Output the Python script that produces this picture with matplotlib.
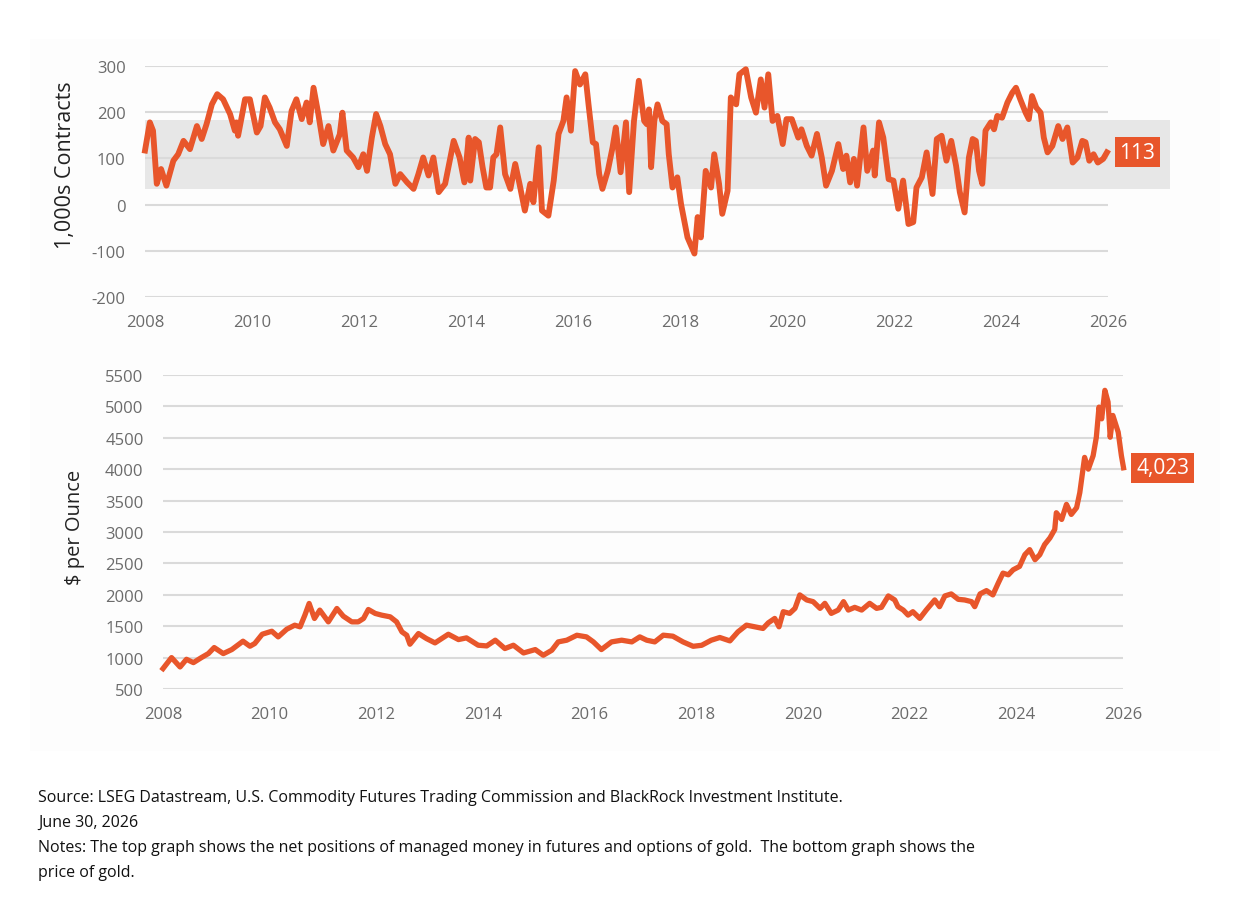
import matplotlib.pyplot as plt
from matplotlib import font_manager
from matplotlib.patches import Rectangle

# Net managed-money positions in gold futures & options (1,000s contracts)
pos_years = [
    2008.0, 2008.09, 2008.15, 2008.22, 2008.3, 2008.4, 2008.53, 2008.62, 2008.72, 2008.84,
    2008.97, 2009.06, 2009.15, 2009.25, 2009.35, 2009.46, 2009.59, 2009.68, 2009.71, 2009.74,
    2009.87, 2009.96, 2010.09, 2010.16, 2010.24, 2010.33, 2010.43, 2010.52, 2010.65, 2010.74,
    2010.83, 2010.93, 2011.02, 2011.08, 2011.15, 2011.24, 2011.33, 2011.43, 2011.52, 2011.64,
    2011.69, 2011.77, 2011.89, 2011.99, 2012.08, 2012.15, 2012.24, 2012.32, 2012.4, 2012.49,
    2012.58, 2012.68, 2012.77, 2012.9, 2013.02, 2013.11, 2013.2, 2013.3, 2013.39, 2013.49,
    2013.61, 2013.77, 2013.88, 2013.97, 2014.05, 2014.08, 2014.17, 2014.24, 2014.31, 2014.38,
    2014.45, 2014.51, 2014.57, 2014.64, 2014.73, 2014.83, 2014.92, 2015.0, 2015.1, 2015.2,
    2015.26, 2015.36, 2015.42, 2015.54, 2015.64, 2015.73, 2015.82, 2015.88, 2015.96, 2016.04,
    2016.13, 2016.23, 2016.29, 2016.37, 2016.43, 2016.49, 2016.55, 2016.65, 2016.74, 2016.8,
    2016.89, 2016.99, 2017.05, 2017.14, 2017.23, 2017.33, 2017.38, 2017.42, 2017.46, 2017.52,
    2017.58, 2017.67, 2017.75, 2017.79, 2017.86, 2017.95, 2018.02, 2018.14, 2018.27, 2018.33,
    2018.39, 2018.48, 2018.58, 2018.64, 2018.73, 2018.79, 2018.89, 2018.95, 2019.05, 2019.11,
    2019.23, 2019.33, 2019.42, 2019.51, 2019.58, 2019.65, 2019.73, 2019.82, 2019.92, 2019.99,
    2020.09, 2020.21, 2020.27, 2020.37, 2020.46, 2020.56, 2020.65, 2020.73, 2020.84, 2020.96,
    2021.05, 2021.11, 2021.18, 2021.25, 2021.31, 2021.43, 2021.5, 2021.61, 2021.64, 2021.72,
    2021.8, 2021.9, 2021.99, 2022.08, 2022.17, 2022.27, 2022.36, 2022.42, 2022.52, 2022.61,
    2022.72, 2022.8, 2022.89, 2022.98, 2023.07, 2023.16, 2023.23, 2023.32, 2023.4, 2023.47,
    2023.53, 2023.59, 2023.65, 2023.71, 2023.81, 2023.87, 2023.93, 2024.02, 2024.12, 2024.21,
    2024.28, 2024.36, 2024.46, 2024.52, 2024.58, 2024.66, 2024.74, 2024.8, 2024.87, 2024.96,
    2025.07, 2025.15, 2025.24, 2025.34, 2025.43, 2025.52, 2025.58, 2025.65, 2025.73, 2025.81,
    2025.91, 2025.98,
]
pos_values = [
    117, 178, 160, 45, 77, 41, 95, 109, 138, 120,
    170, 142, 174, 217, 239, 228, 196, 160, 178, 149,
    228, 228, 156, 170, 232, 210, 178, 163, 127, 203,
    228, 185, 221, 178, 253, 196, 131, 170, 117, 152,
    199, 117, 102, 81, 109, 73, 145, 196, 170, 131,
    109, 45, 66, 48, 34, 66, 102, 63, 102, 27,
    45, 138, 102, 48, 145, 52, 142, 135, 81, 37,
    37, 102, 109, 167, 66, 34, 88, 45, -13, 45,
    5, 124, -13, -24, 52, 153, 181, 232, 160, 289,
    260, 282, 217, 135, 131, 66, 34, 73, 124, 167,
    70, 178, 27, 181, 268, 181, 174, 206, 81, 181,
    217, 181, 174, 109, 37, 59, 1, -71, -106, -27,
    -71, 73, 37, 109, 45, -20, 30, 232, 217, 282,
    293, 232, 199, 271, 210, 282, 181, 192, 131, 185,
    185, 145, 163, 127, 106, 153, 102, 41, 73, 131,
    77, 106, 48, 99, 41, 167, 73, 117, 63, 178,
    145, 55, 52, -9, 52, -42, -38, 37, 59, 113,
    23, 142, 149, 95, 138, 84, 27, -17, 102, 142,
    138, 73, 45, 160, 178, 163, 192, 188, 221, 242,
    253, 228, 199, 185, 235, 210, 199, 145, 113, 127,
    170, 142, 167, 91, 102, 138, 135, 95, 109, 91,
    99, 113,
]

# Gold price ($ per ounce)
gold_years = [
    2008.0, 2008.16, 2008.32, 2008.44, 2008.57, 2008.72, 2008.85, 2008.96, 2009.13, 2009.29,
    2009.5, 2009.63, 2009.72, 2009.86, 2010.04, 2010.16, 2010.32, 2010.47, 2010.57, 2010.66,
    2010.74, 2010.84, 2010.94, 2011.1, 2011.26, 2011.38, 2011.54, 2011.66, 2011.76, 2011.85,
    2011.98, 2012.1, 2012.26, 2012.38, 2012.48, 2012.57, 2012.63, 2012.79, 2012.94, 2013.1,
    2013.35, 2013.54, 2013.69, 2013.91, 2014.07, 2014.23, 2014.41, 2014.57, 2014.76, 2014.98,
    2015.13, 2015.29, 2015.41, 2015.57, 2015.76, 2015.94, 2016.07, 2016.22, 2016.41, 2016.6,
    2016.79, 2016.94, 2017.07, 2017.22, 2017.38, 2017.56, 2017.75, 2017.94, 2018.1, 2018.28,
    2018.44, 2018.63, 2018.78, 2018.94, 2019.1, 2019.25, 2019.35, 2019.47, 2019.55, 2019.63,
    2019.75, 2019.85, 2019.94, 2020.07, 2020.19, 2020.32, 2020.41, 2020.53, 2020.66, 2020.76,
    2020.85, 2020.97, 2021.1, 2021.25, 2021.38, 2021.47, 2021.6, 2021.72, 2021.78, 2021.88,
    2021.97, 2022.06, 2022.19, 2022.31, 2022.47, 2022.56, 2022.66, 2022.78, 2022.91, 2023.03,
    2023.16, 2023.22, 2023.32, 2023.44, 2023.56, 2023.66, 2023.75, 2023.85, 2023.94, 2024.06,
    2024.16, 2024.25, 2024.35, 2024.44, 2024.53, 2024.63, 2024.72, 2024.75, 2024.85, 2024.94,
    2025.03, 2025.13, 2025.19, 2025.28, 2025.35, 2025.44, 2025.5, 2025.55, 2025.6, 2025.66,
    2025.72, 2025.76, 2025.81, 2025.86, 2025.91, 2025.97, 2026.01,
]
gold_values = [
    825, 1000, 851, 973, 920, 1000, 1064, 1160, 1064, 1128,
    1261, 1181, 1224, 1372, 1420, 1330, 1452, 1516, 1490, 1676,
    1862, 1623, 1756, 1569, 1782, 1660, 1569, 1569, 1623, 1766,
    1703, 1676, 1649, 1569, 1410, 1356, 1213, 1383, 1303, 1234,
    1372, 1287, 1314, 1197, 1186, 1277, 1144, 1197, 1074, 1128,
    1037, 1117, 1250, 1277, 1356, 1330, 1250, 1128, 1250, 1277,
    1250, 1330, 1277, 1250, 1357, 1341, 1250, 1180, 1196, 1277,
    1320, 1266, 1410, 1517, 1490, 1464, 1554, 1624, 1490, 1731,
    1704, 1784, 1998, 1918, 1891, 1784, 1864, 1704, 1757, 1891,
    1757, 1800, 1757, 1864, 1784, 1800, 1982, 1918, 1811, 1757,
    1677, 1731, 1624, 1757, 1918, 1811, 1982, 2014, 1928, 1918,
    1891, 1811, 2014, 2067, 1998, 2185, 2345, 2318, 2398, 2452,
    2639, 2719, 2559, 2639, 2799, 2906, 3040, 3307, 3200, 3440,
    3280, 3387, 3627, 4188, 4001, 4215, 4509, 4989, 4802, 5256,
    5069, 4509, 4856, 4722, 4589, 4215, 4023,
]

year_ticks = list(range(2008, 2027, 2))
band_range = (34, 184)

LINE = "#E8562B"
GRID = "#DADADA"
TICK = "#6B6B6B"

names = {f.name for f in font_manager.fontManager.ttflist}
tick_font = next((f for f in ["Open Sans", "Roboto", "Lato", "Noto Sans"] if f in names),
                 "DejaVu Sans")
if "Liberation Sans Narrow" in names:
    note_font, note_size = "Liberation Sans Narrow", 12.5
else:
    note_font, note_size = tick_font, 11.55

plt.rcParams["font.family"] = [tick_font, "DejaVu Sans"]
plt.rcParams["axes.unicode_minus"] = False

fig = plt.figure(figsize=(12.52, 9.2), dpi=100)
fig.patch.set_facecolor("white")
fig.add_artist(Rectangle((30 / 1252, 1 - 752 / 920), 1190 / 1252, 712 / 920,
                         transform=fig.transFigure, fc="#FDFDFD", ec="none", zorder=0))


def style_axes(ax, yticks):
    ax.set_facecolor("none")
    for s in ax.spines.values():
        s.set_visible(False)
    ax.set_yticks(yticks)
    ax.set_xticks(year_ticks)
    ax.grid(axis="y", color=GRID, linewidth=1.5, zorder=1)
    ax.tick_params(length=0, labelsize=12, labelcolor=TICK)
    ax.tick_params(axis="y", pad=14)
    ax.tick_params(axis="x", pad=12)


def value_box(ax, x, y, dx):
    ax.annotate(f"{y:,.0f}", xy=(x, y), xytext=(dx, 0), textcoords="offset points",
                ha="left", va="center", color="white", fontsize=15,
                bbox=dict(boxstyle="square,pad=0.22", fc=LINE, ec="none"),
                annotation_clip=False, zorder=5)


# top panel: positioning
ax1 = fig.add_axes([145 / 1252, 1 - 298 / 920, 963 / 1252, 231 / 920])
style_axes(ax1, [-200, -100, 0, 100, 200, 300])
ax1.set_xlim(2008, 2026)
ax1.set_ylim(-200, 300)
band_end = 2008 + (1170 - 145) / 53.5
ax1.add_patch(Rectangle((2008, band_range[0]), band_end - 2008, band_range[1] - band_range[0],
                        fc="#E4E4E4", ec="none", alpha=0.85, zorder=1.5, clip_on=False))
ax1.plot(pos_years, pos_values, color=LINE, linewidth=4.2, solid_joinstyle="round",
         zorder=3, clip_on=False)
value_box(ax1, pos_years[-1], pos_values[-1], 9)

# bottom panel: gold price
ax2 = fig.add_axes([163 / 1252, 1 - 690 / 920, 960 / 1252, 314 / 920])
style_axes(ax2, list(range(500, 5501, 500)))
ax2.set_xlim(2008, 2026)
ax2.set_ylim(500, 5500)
ax2.plot(gold_years, gold_values, color=LINE, linewidth=3.8, solid_joinstyle="round",
         zorder=3, clip_on=False)
value_box(ax2, gold_years[-1], gold_values[-1], 9)

fig.text(65 / 1252, 1 - 165 / 920, "1,000s Contracts", rotation=90, ha="center",
         va="center", fontsize=15.5, color="#222222")
fig.text(75 / 1252, 1 - 527 / 920, "$ per Ounce", rotation=90, ha="center",
         va="center", fontsize=14.5, color="#222222")

notes = [
    "Source: LSEG Datastream, U.S. Commodity Futures Trading Commission and BlackRock Investment Institute.",
    "June 30, 2026",
    "Notes: The top graph shows the net positions of managed money in futures and options of gold.  The bottom graph shows the",
    "price of gold.",
]
for i, line in enumerate(notes):
    fig.text(38 / 1252, 1 - (798 + 25 * i) / 920, line, ha="left", va="center",
             fontsize=note_size, color="#111111", family=[note_font, "DejaVu Sans"])

fig.savefig("out.png", dpi=100, facecolor="white")
